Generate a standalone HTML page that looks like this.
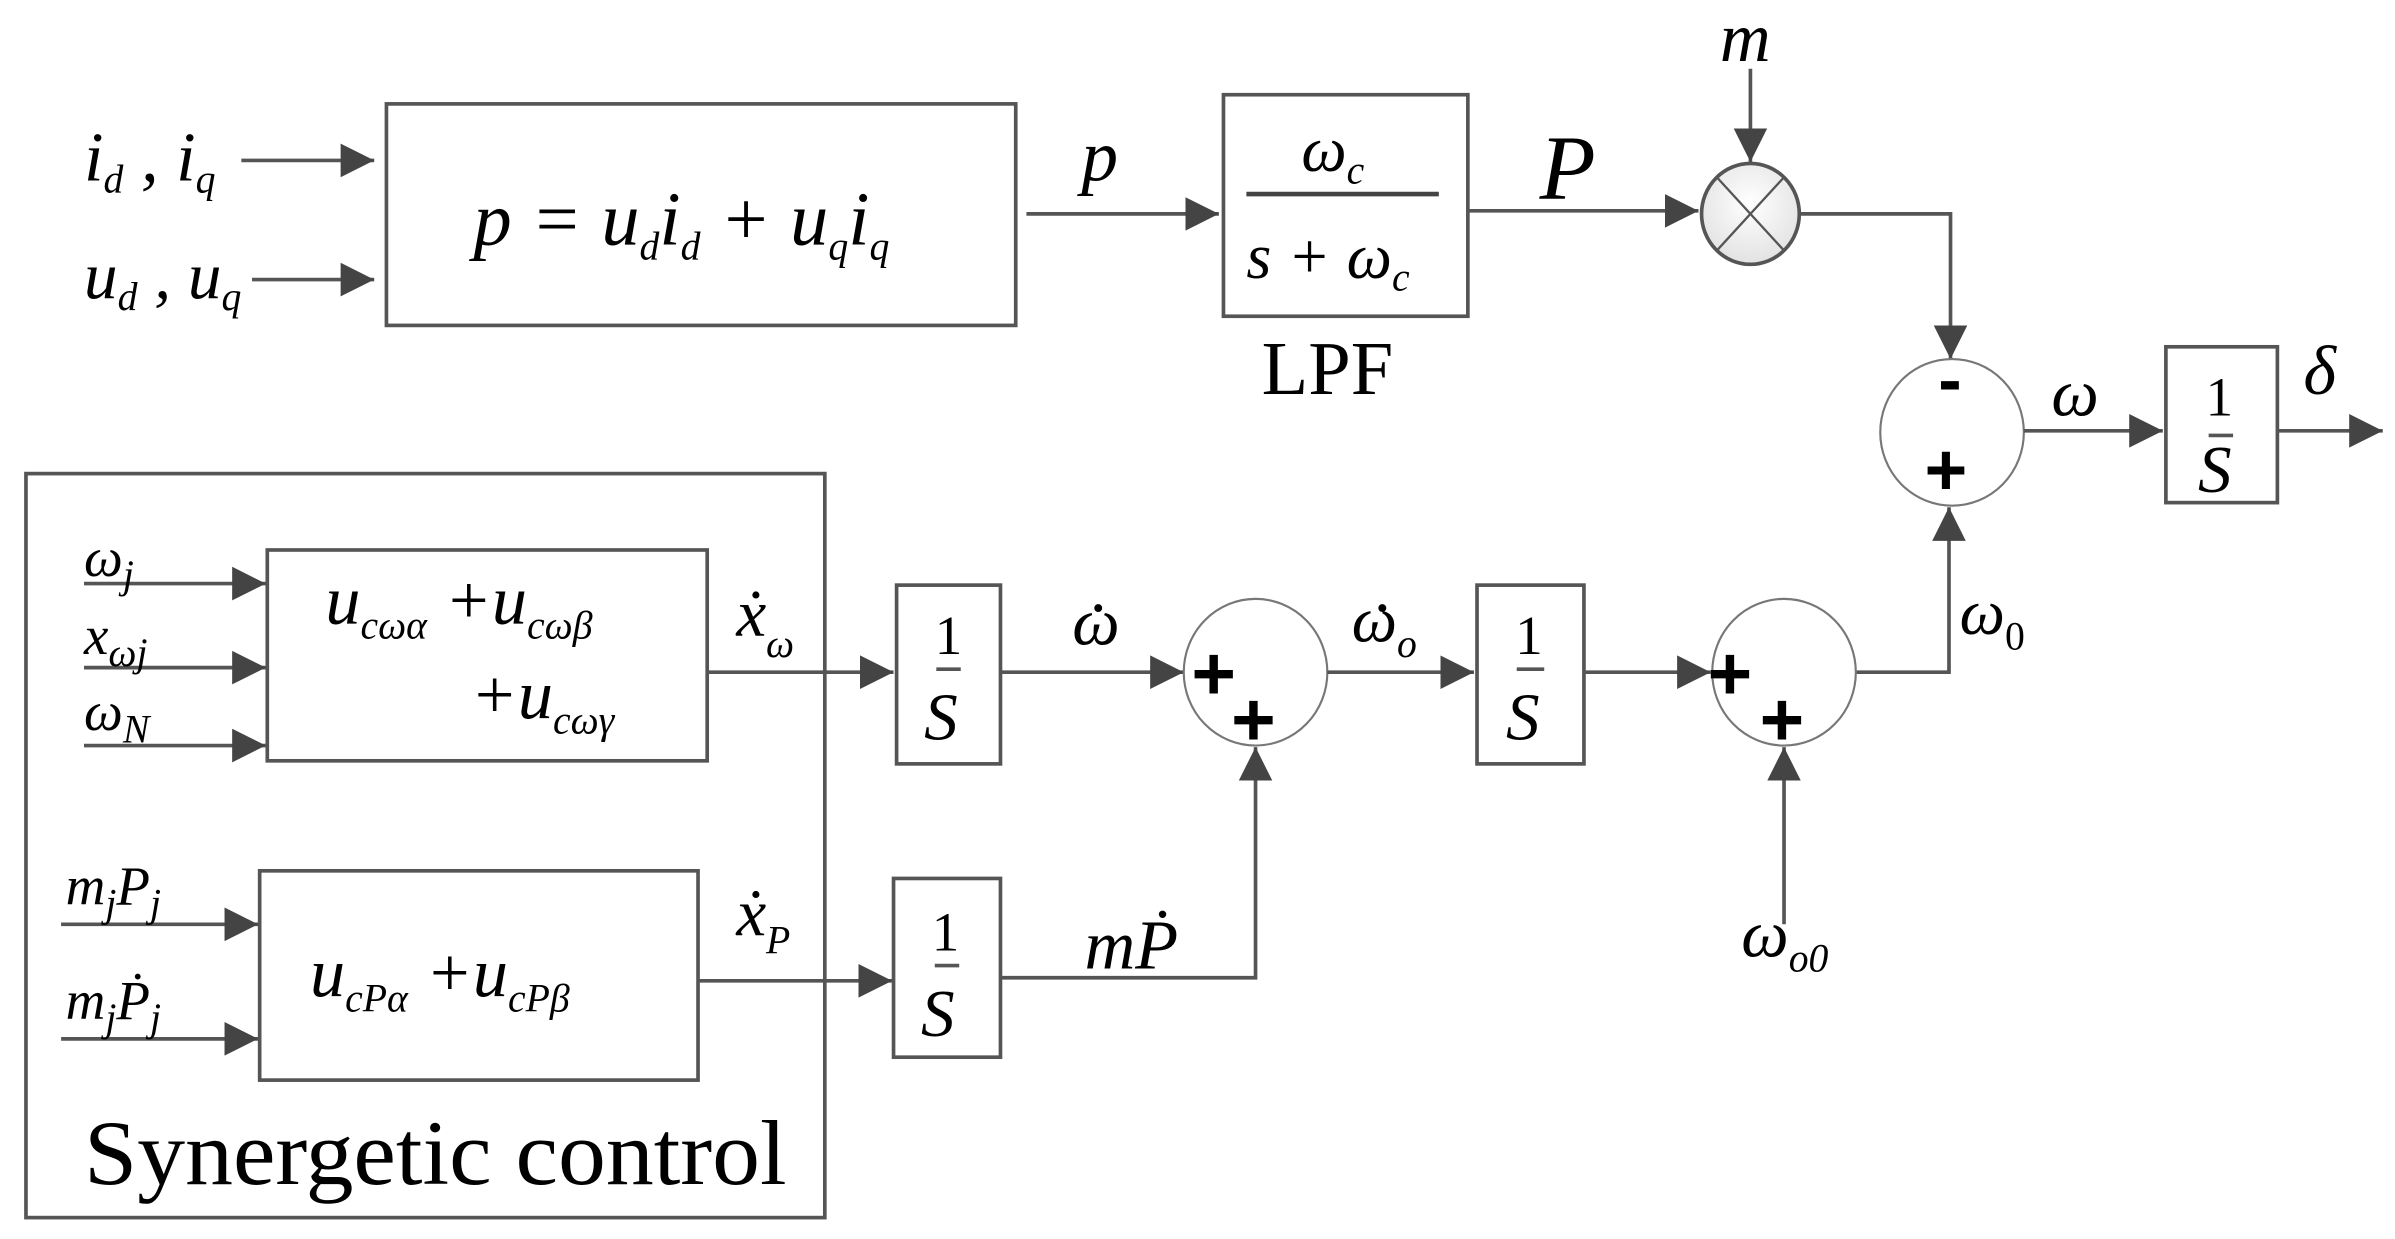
<!DOCTYPE html>
<html><head><meta charset="utf-8"><style>
html,body{margin:0;padding:0;background:#fff;}
svg{display:block;}
text{font-family:"Liberation Serif",serif;font-style:italic;fill:#000;}
.n{font-style:normal;}
.sub{font-size:26px;}
.pl{font-family:"Liberation Sans",sans-serif;font-style:normal;font-weight:bold;}
</style></head><body>
<svg width="2395" height="1239" viewBox="0 0 1568 811" preserveAspectRatio="none" xmlns="http://www.w3.org/2000/svg">
<defs>
<marker id="a" markerUnits="userSpaceOnUse" markerWidth="24" markerHeight="26" refX="22" refY="13" orient="auto">
<polygon points="0,2 22,13 0,24" fill="#444"/>
</marker>
<radialGradient id="g" cx="0.5" cy="0.4" r="0.6"><stop offset="0" stop-color="#fff"/><stop offset="1" stop-color="#e2e2e2"/></radialGradient>
</defs>
<g stroke="#555" stroke-width="2.4" fill="none">
<line x1="158" y1="105" x2="245" y2="105" marker-end="url(#a)"/>
<line x1="165" y1="183" x2="245" y2="183" marker-end="url(#a)"/>
<rect x="253" y="68" width="412" height="145"/>
<line x1="672" y1="140" x2="798" y2="140" marker-end="url(#a)"/>
<rect x="801" y="62" width="160" height="145"/>
<line x1="816" y1="127" x2="942" y2="127" stroke="#444" stroke-width="3"/>
<line x1="961" y1="138" x2="1112" y2="138" marker-end="url(#a)"/>
<line x1="1146" y1="45" x2="1146" y2="106" marker-end="url(#a)"/>
<ellipse cx="1146" cy="140" rx="32" ry="33" fill="url(#g)"/>
<line x1="1124" y1="116" x2="1168" y2="164" stroke-width="1.5"/>
<line x1="1168" y1="116" x2="1124" y2="164" stroke-width="1.5"/>
<polyline points="1179,140 1277,140 1277,235" marker-end="url(#a)"/>
<ellipse cx="1278" cy="283" rx="47" ry="48" stroke-width="1.4" stroke="#777"/>
<line x1="1325" y1="282" x2="1416" y2="282" marker-end="url(#a)"/>
<rect x="1418" y="227" width="73" height="102"/>
<line x1="1491" y1="282" x2="1560" y2="282" marker-end="url(#a)"/>
<polyline points="1215,440 1276,440 1276,332" marker-end="url(#a)"/>
<rect x="17" y="310" width="523" height="487"/>
<rect x="175" y="360" width="288" height="138"/>
<line x1="55" y1="382" x2="174" y2="382" marker-end="url(#a)"/>
<line x1="55" y1="437" x2="174" y2="437" marker-end="url(#a)"/>
<line x1="55" y1="488" x2="174" y2="488" marker-end="url(#a)"/>
<line x1="463" y1="440" x2="585" y2="440" marker-end="url(#a)"/>
<rect x="587" y="383" width="68" height="117"/>
<line x1="655" y1="440" x2="775" y2="440" marker-end="url(#a)"/>
<ellipse cx="822" cy="440" rx="47" ry="48" stroke-width="1.4" stroke="#777"/>
<line x1="869" y1="440" x2="965" y2="440" marker-end="url(#a)"/>
<rect x="967" y="383" width="70" height="117"/>
<line x1="1037" y1="440" x2="1120" y2="440" marker-end="url(#a)"/>
<ellipse cx="1168" cy="440" rx="47" ry="48" stroke-width="1.4" stroke="#777"/>
<line x1="1168" y1="605" x2="1168" y2="489" marker-end="url(#a)"/>
<rect x="170" y="570" width="287" height="137"/>
<line x1="40" y1="605" x2="169" y2="605" marker-end="url(#a)"/>
<line x1="40" y1="680" x2="169" y2="680" marker-end="url(#a)"/>
<line x1="457" y1="642" x2="584" y2="642" marker-end="url(#a)"/>
<rect x="585" y="575" width="70" height="117"/>
<polyline points="655,640 822,640 822,489" marker-end="url(#a)"/>
<line x1="613" y1="438" x2="629" y2="438"/>
<line x1="993" y1="438" x2="1011" y2="438"/>
<line x1="612" y1="632" x2="628" y2="632"/>
<line x1="1446" y1="285" x2="1462" y2="285"/>
</g>
<g fill="#000"><circle cx="719" cy="398" r="2.6"/><circle cx="905" cy="398" r="2.6"/></g>
<text x="55" y="118" font-size="46">i<tspan class="sub" dy="8">d</tspan><tspan dy="-8"> , i</tspan><tspan class="sub" dy="8">q</tspan></text>
<text x="55" y="195" font-size="44">u<tspan class="sub" dy="8">d</tspan><tspan dy="-8"> , u</tspan><tspan class="sub" dy="8">q</tspan></text>
<text x="310" y="160" font-size="50">p = u<tspan class="sub" dy="10">d</tspan><tspan dy="-10">i</tspan><tspan class="sub" dy="10">d</tspan><tspan dy="-10"> + u</tspan><tspan class="sub" dy="10">q</tspan><tspan dy="-10">i</tspan><tspan class="sub" dy="10">q</tspan></text>
<text x="708" y="118" font-size="48">p</text>
<text x="852" y="112" font-size="42">ω<tspan class="sub" dy="8">c</tspan></text>
<text x="816" y="182" font-size="42">s + ω<tspan class="sub" dy="8">c</tspan></text>
<text x="826" y="258" font-size="50" class="n">LPF</text>
<text x="1008" y="130" font-size="60">P</text>
<text x="1126" y="40" font-size="46">m</text>
<text x="1269" y="264" font-size="46" class="pl">-</text>
<text x="1260" y="324" font-size="48" class="pl">+</text>
<text x="1343" y="272" font-size="44">ω</text>
<text x="1444" y="272" font-size="36" class="n">1</text>
<text x="1439" y="322" font-size="44">S</text>
<text x="1508" y="258" font-size="46">δ</text>
<text x="1283" y="415" font-size="42">ω<tspan class="sub n" dy="10" style="font-style:normal">0</tspan></text>
<text x="55" y="377" font-size="36">ω<tspan class="sub" dy="8">j</tspan></text>
<text x="55" y="428" font-size="36">x<tspan class="sub" dy="8">ωj</tspan></text>
<text x="55" y="478" font-size="36">ω<tspan class="sub" dy="8">N</tspan></text>
<text x="213" y="408" font-size="46">u<tspan class="sub" dy="10">cωα</tspan><tspan dy="-10"> +u</tspan><tspan class="sub" dy="10">cωβ</tspan></text>
<text x="308" y="470" font-size="46">+u<tspan class="sub" dy="10">cωγ</tspan></text>
<text x="482" y="416" font-size="44">ẋ<tspan class="sub" dy="14">ω</tspan></text>
<text x="612" y="428" font-size="36" class="n">1</text>
<text x="605" y="484" font-size="44">S</text>
<text x="702" y="422" font-size="44">ω</text>
<text x="780" y="458" font-size="50" class="pl">+</text>
<text x="806" y="488" font-size="50" class="pl">+</text>
<text x="885" y="420" font-size="42">ω<tspan class="sub" dy="10">o</tspan></text>
<text x="992" y="428" font-size="36" class="n">1</text>
<text x="986" y="484" font-size="44">S</text>
<text x="1118" y="458" font-size="50" class="pl">+</text>
<text x="1152" y="488" font-size="50" class="pl">+</text>
<text x="1140" y="626" font-size="44">ω<tspan class="sub" dy="10">o0</tspan></text>
<text x="43" y="592" font-size="36">m<tspan class="sub" dy="8">j</tspan><tspan dy="-8">P</tspan><tspan class="sub" dy="8">j</tspan></text>
<text x="43" y="667" font-size="36">m<tspan class="sub" dy="8">j</tspan><tspan dy="-8">Ṗ</tspan><tspan class="sub" dy="8">j</tspan></text>
<text x="203" y="652" font-size="46">u<tspan class="sub" dy="10">cPα</tspan><tspan dy="-10"> +u</tspan><tspan class="sub" dy="10">cPβ</tspan></text>
<text x="482" y="612" font-size="44">ẋ<tspan class="sub" dy="12">P</tspan></text>
<text x="610" y="622" font-size="36" class="n">1</text>
<text x="603" y="678" font-size="44">S</text>
<text x="710" y="634" font-size="46">mṖ</text>
<text x="55" y="775" font-size="60" class="n" textLength="460" lengthAdjust="spacingAndGlyphs">Synergetic control</text>
</svg>
</body></html>
